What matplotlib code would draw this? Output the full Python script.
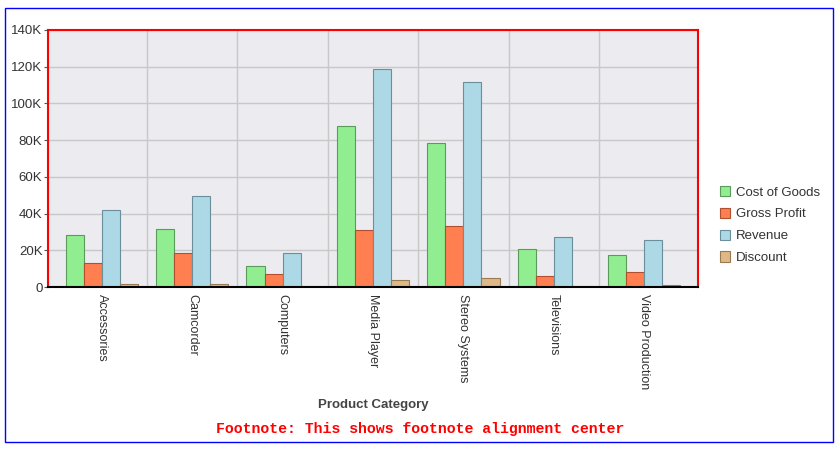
import numpy as np
import matplotlib.pyplot as plt
from matplotlib.patches import Rectangle
from matplotlib.ticker import FuncFormatter

categories = ["Accessories", "Camcorder", "Computers", "Media Player",
              "Stereo Systems", "Televisions", "Video Production"]
cost_of_goods = [28.3, 31.6, 11.4, 87.7, 78.4, 20.7, 17.4]
gross_profit = [13.1, 18.5, 7.0, 31.0, 33.4, 6.0, 8.2]
revenue = [41.9, 49.6, 18.5, 118.7, 111.7, 27.2, 25.6]
discount = [1.6, 1.5, 0.8, 3.8, 4.9, 0.5, 1.1]

series = [("Cost of Goods", cost_of_goods, "#90EE90", "#5a9a5a"),
          ("Gross Profit", gross_profit, "#FF7F50", "#b05030"),
          ("Revenue", revenue, "#ADD8E6", "#6a8e9a"),
          ("Discount", discount, "#DEB887", "#9a7a50")]

plt.rcParams["font.family"] = ["Liberation Sans", "DejaVu Sans"]

fig = plt.figure(figsize=(8.4, 4.62), dpi=100)
ax = fig.add_axes([48 / 840, 1 - 287 / 462, 650 / 840, 257 / 462])
ax.set_facecolor("#ececf0")

x = np.arange(len(categories))
width = 0.2
for k, (name, vals, color, edge) in enumerate(series):
    ax.bar(x + (k - 1.5) * width, np.array(vals) * 1000, width,
           color=color, edgecolor=edge, linewidth=0.8, label=name, zorder=3)

ax.set_xlim(-0.595, 6.595)
ax.set_ylim(0, 140000)
ax.set_yticks(np.arange(0, 140001, 20000))
ax.yaxis.set_major_formatter(FuncFormatter(lambda v, p: "0" if v == 0 else f"{int(v / 1000)}K"))
ax.set_xticks(x)
ax.set_xticklabels(categories, rotation=270, fontsize=9, color="#333333")
ax.set_xticks(np.arange(0.5, 6, 1), minor=True)
ax.tick_params(axis="x", which="both", length=0, pad=5)
ax.tick_params(axis="y", length=3, width=0.8, color="#555555", labelsize=9.5,
               labelcolor="#333333", pad=1)
ax.grid(axis="y", color="#c8c8c8", linewidth=1, zorder=0)
ax.grid(axis="x", which="minor", color="#c8c8c8", linewidth=1, zorder=0)
ax.set_axisbelow(True)

for side in ["left", "right", "top"]:
    ax.spines[side].set_color("red")
    ax.spines[side].set_linewidth(1.5)
ax.spines["bottom"].set_color("black")
ax.spines["bottom"].set_linewidth(1.5)
ax.spines["bottom"].set_zorder(4)

fig.text(373 / 840, 1 - 405 / 462, "Product Category", ha="center", va="center",
         fontsize=9.5, fontweight="bold", color="#444444")
fig.text(420 / 840, 1 - 429 / 462, "Footnote: This shows footnote alignment center",
         ha="center", va="center", fontsize=10.7, fontweight="bold", color="red",
         family=["Liberation Mono", "DejaVu Sans Mono"])

handles, labels = ax.get_legend_handles_labels()
fig.legend(handles, labels, loc="center left", bbox_to_anchor=(708 / 840, 1 - 225 / 462),
           frameon=False, fontsize=9.5, handlelength=0.8, handleheight=0.8,
           handletextpad=0.4, labelspacing=0.7, labelcolor="#333333")

fig.patches.append(Rectangle((5 / 840, 1 - 442 / 462), 828 / 840, 434 / 462,
                             transform=fig.transFigure, fill=False,
                             edgecolor="blue", linewidth=1))

fig.savefig("out.png", dpi=100)
